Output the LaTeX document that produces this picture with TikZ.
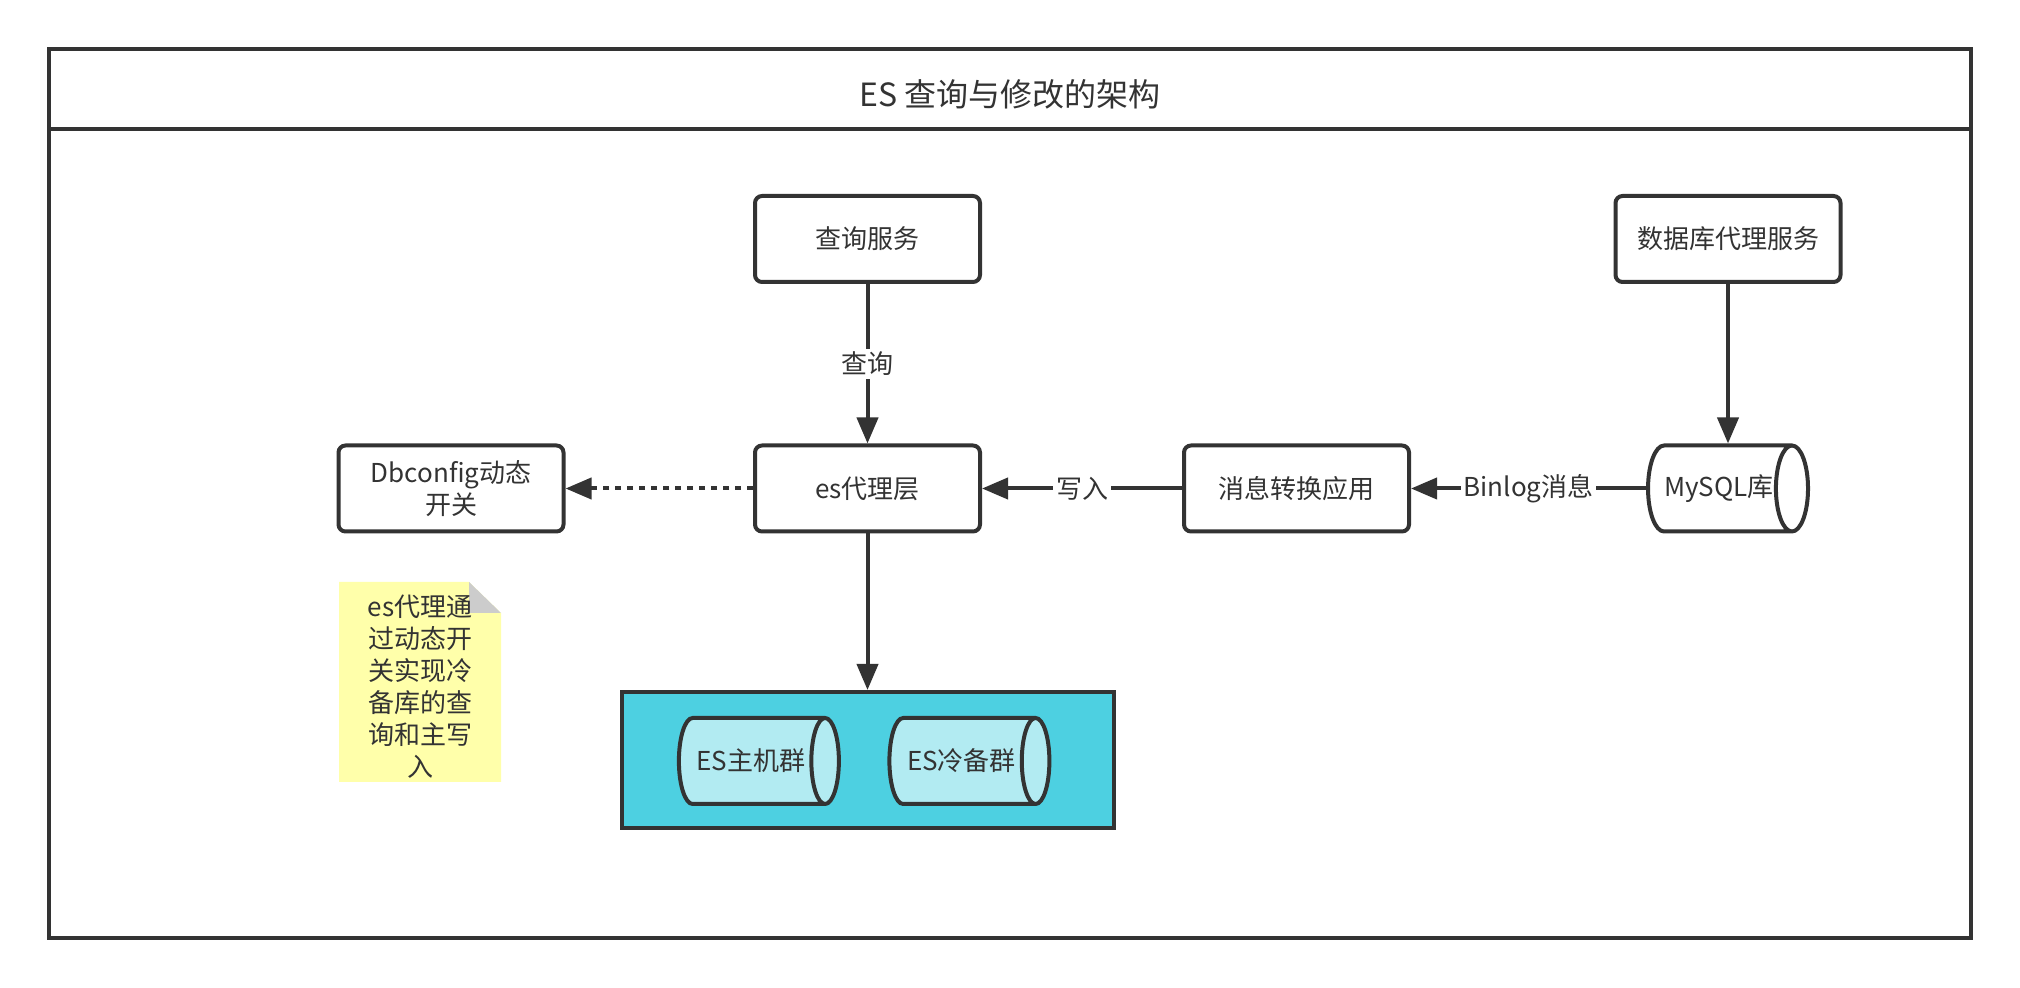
\documentclass[tikz,border=0pt]{standalone}
\usepackage{fontspec}
\setmainfont{Noto Sans CJK SC}
\usepackage{xcolor}
\usepackage{tikz}
\usetikzlibrary{arrows.meta,shapes.geometric}
\definecolor{ink}{HTML}{333333}
\definecolor{clusterfill}{HTML}{4DD0E1}
\definecolor{dbfill}{HTML}{B2EBF2}
\definecolor{notefill}{HTML}{FFFFAA}
\definecolor{foldfill}{HTML}{CCCCCC}
\tikzset{
  box/.style={draw, rounded corners=3.5pt, fill=white, minimum width=112.5pt, minimum height=43pt, inner sep=0pt, align=center},
  db/.style={cylinder, draw, aspect=1.15, minimum height=80pt, minimum width=43pt, inner sep=0pt},
  lbl/.style={fill=white, inner sep=1.5pt},
  flow/.style={-{Triangle[length=13pt,width=10.5pt]}}
}

\begin{document}
\begin{tikzpicture}[x=0.5pt, y=-0.5pt, line width=2pt, color=ink,
    every node/.style={font=\fontsize{13}{16}\selectfont}]
        \useasboundingbox (0,0) rectangle (2020,988);
        % frame and title
        \draw[line width=1.7pt] (49,49) rectangle (1971,938);
        \draw[line width=1.7pt] (49,129) -- (1971,129);
        \node (title) at (1010,94) {\fontsize{16}{19}\selectfont ES 查询与修改的架构};
        % note
        \fill[notefill] (339,582) -- (469,582) -- (501,613) -- (501,782) -- (339,782) -- cycle;
        \fill[foldfill] (469,582) -- (501,613) -- (469,613) -- cycle;
        \node[align=center] (note) at (420,687) {es代理通\\过动态开\\关实现冷\\备库的查\\询和主写\\入};
        % services
        \node[box] (query) at (867.5,239) {查询服务};
        \node[box] (dbproxy) at (1728,239) {数据库代理服务};
        \node[box] (esproxy) at (867.5,488.5) {es代理层};
        \node[box] (dbconfig) at (451,488.5) {Dbconfig动态\\开关};
        \node[box] (convert) at (1296.5,488.5) {消息转换应用};
        \node[db, fill=white] (mysql) at (1719,488.5) {MySQL库};
        % es clusters
        \node[draw, fill=clusterfill, minimum width=246pt, minimum height=68pt] (cluster) at (867.5,760) {};
        \node[db, fill=dbfill] (master) at (751,761) {ES主机群};
        \node[db, fill=dbfill] (cold) at (961.5,761) {ES冷备群};
        % connectors
        \draw[flow] (query) -- node[lbl] {查询} (esproxy);
        \draw[flow] (dbproxy) -- (dbproxy |- mysql.north);
        \draw[flow] (mysql) -- node[lbl] {Binlog消息} (convert);
        \draw[flow] (convert) -- node[lbl] {写入} (esproxy);
        \draw[flow, dash pattern=on 3pt off 3pt] (esproxy) -- (dbconfig);
        \draw[flow] (esproxy) -- (cluster);
    \end{tikzpicture}
\end{document}
